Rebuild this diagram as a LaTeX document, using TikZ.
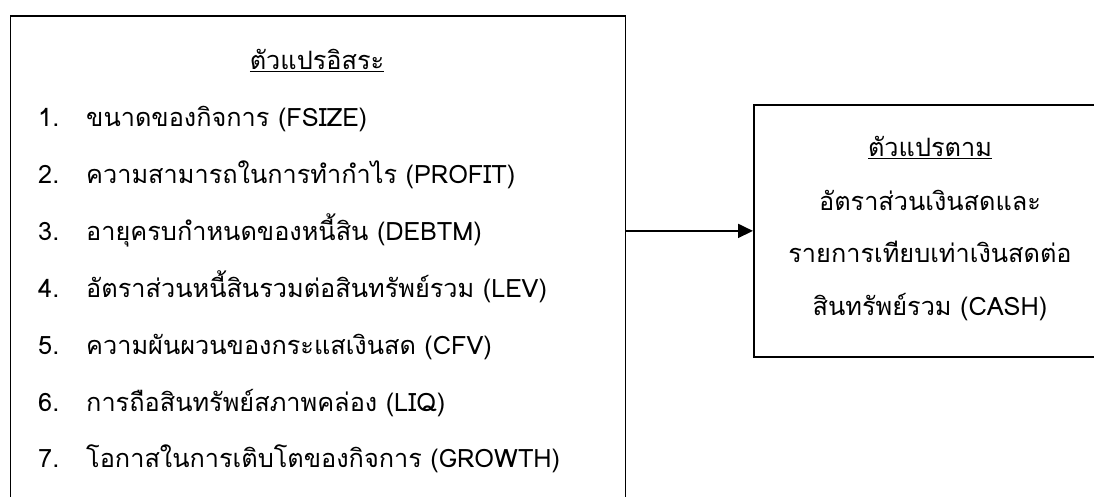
\documentclass[tikz,border=0pt]{standalone}
\usepackage{fontspec}
\usetikzlibrary{arrows.meta}
\setmainfont[Script=Thai]{Loma}
\begin{document}
\begin{tikzpicture}[x=1pt,y=-1pt,
  boxstyle/.style={draw,line width=1.8pt,rectangle,inner sep=0pt},
  txt/.style={inner sep=0pt,font=\fontsize{25.3}{30}\selectfont},
  num/.style={txt,anchor=base west},
  item/.style={txt,anchor=base west},
  ctr/.style={txt,anchor=base}]
\clip (0,0) rectangle (1094,497);
\node[boxstyle,minimum width=615pt,minimum height=520pt,anchor=north west] (indep) at (9.5,15.5) {};
\node[boxstyle,minimum width=354pt,minimum height=252pt,anchor=north west] (dep) at (753,104) {};
\node[ctr] (h1) at (317,70) {\underline{ตัวแปรอิสระ}};
\node[num] (n1) at (38,127) {1.};
\node[item] (i1) at (86,127) {ขนาดของกิจการ (FSIZE)};
\node[num] (n2) at (38,183.8) {2.};
\node[item] (i2) at (86,183.8) {ความสามารถในการทำกำไร (PROFIT)};
\node[num] (n3) at (38,240.6) {3.};
\node[item] (i3) at (86,240.6) {อายุครบกำหนดของหนี้สิน (DEBTM)};
\node[num] (n4) at (38,297.4) {4.};
\node[item] (i4) at (86,297.4) {อัตราส่วนหนี้สินรวมต่อสินทรัพย์รวม (LEV)};
\node[num] (n5) at (38,354.2) {5.};
\node[item] (i5) at (86,354.2) {ความผันผวนของกระแสเงินสด (CFV)};
\node[num] (n6) at (38,411) {6.};
\node[item] (i6) at (86,411) {การถือสินทรัพย์สภาพคล่อง (LIQ)};
\node[num] (n7) at (38,467.8) {7.};
\node[item] (i7) at (86,467.8) {โอกาสในการเติบโตของกิจการ (GROWTH)};
\node[ctr] (h2) at (930,157) {\underline{ตัวแปรตาม}};
\node[ctr] (r1) at (930,210) {อัตราส่วนเงินสดและ};
\node[ctr] (r2) at (930,262.5) {รายการเทียบเท่าเงินสดต่อ};
\node[ctr] (r3) at (930,315) {สินทรัพย์รวม (CASH)};
\draw[line width=1.8pt,-{Triangle[length=15pt,width=14pt]}] (dep.west -| indep.east) -- (dep.west);
\end{tikzpicture}
\end{document}
